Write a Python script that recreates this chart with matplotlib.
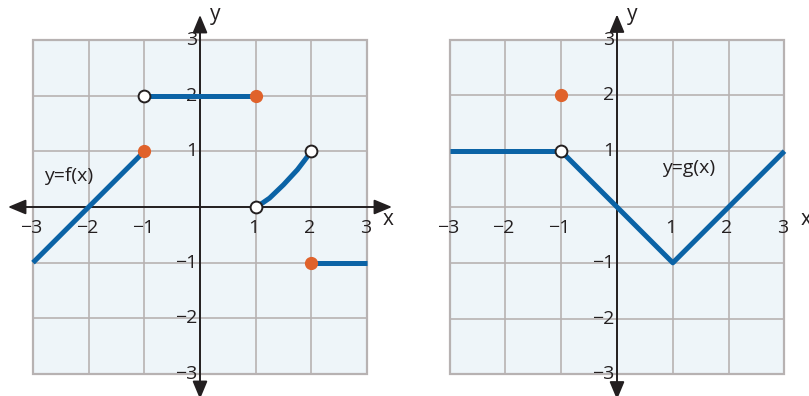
import matplotlib
matplotlib.use("Agg")
import matplotlib.pyplot as plt
from matplotlib.patches import Rectangle

plt.rcParams['font.family'] = ['Open Sans', 'DejaVu Sans']

# data
ticks = [-3, -2, -1, 1, 2, 3]
tick_labels = ['−3', '−2', '−1', '1', '2', '3']

# f(x) pieces
f_line1_x = [-3, -1]
f_line1_y = [-1, 1]
f_flat_x = [-1, 1]
f_flat_y = [2, 2]
f_curve_x = [1, 1.12, 1.25, 1.5, 1.75, 1.88, 2]
f_curve_y = [0, 0.07, 0.16, 0.40, 0.67, 0.84, 1]
f_tail_x = [2, 3]
f_tail_y = [-1, -1]
f_closed = [(-1, 1), (1, 2), (2, -1)]
f_open = [(-1, 2), (1, 0), (2, 1)]

# g(x) pieces
g_flat_x = [-3, -1]
g_flat_y = [1, 1]
g_v_x = [-1, 1, 3]
g_v_y = [1, -1, 1]
g_closed = [(-1, 2)]
g_open = [(-1, 1)]

BLUE = '#0b63a6'
ORANGE = '#e0622b'
DARK = '#231f20'
GRID = '#b7b2b2'
BG = '#eef5f9'
FS = 14

W, H = 809, 396
fig = plt.figure(figsize=(W / 100, H / 100), dpi=100)


def make_panel(left_px, right_px, x0_px, unit):
    ax = fig.add_axes([left_px / W, 0, (right_px - left_px) / W, 1])
    y0_px = 207
    ax.set_xlim((left_px - x0_px) / unit, (right_px - x0_px) / unit)
    ax.set_ylim((y0_px - H) / unit, y0_px / unit)
    ax.axis('off')

    ax.add_patch(Rectangle((-3, -3), 6, 6, facecolor=BG, edgecolor=GRID,
                           lw=1.6, zorder=0))
    for v in range(-2, 3):
        ax.plot([v, v], [-3, 3], color=GRID, lw=1.2, zorder=1)
        ax.plot([-3, 3], [v, v], color=GRID, lw=1.2, zorder=1)

    arrow = dict(arrowstyle='<|-|>,head_length=0.6,head_width=0.25',
                 color=DARK, lw=1.4, mutation_scale=18, shrinkA=0, shrinkB=0)
    ax.annotate('', xy=(3.45, 0), xytext=(-3.45, 0), arrowprops=arrow, zorder=2)
    ax.annotate('', xy=(0, 3.45), xytext=(0, -3.45), arrowprops=arrow, zorder=2)

    for t, lab in zip(ticks, tick_labels):
        ax.text(t - 0.03, -0.38, lab, ha='center', va='center', fontsize=FS,
                color=DARK, zorder=3)
        ax.text(-0.05, t, lab, ha='right', va='center', fontsize=FS,
                color=DARK, zorder=3)
    ax.text(0.17, 3.45, 'y', ha='left', va='center', fontsize=FS + 1,
            color=DARK)
    ax.text(3.38, -0.23, 'x', ha='center', va='center', fontsize=FS + 1,
            color=DARK)
    return ax


def draw_points(ax, closed, opened):
    for x, y in closed:
        ax.plot(x, y, 'o', ms=8.5, color=ORANGE, mec=ORANGE, zorder=6)
    for x, y in opened:
        ax.plot(x, y, 'o', ms=8.5, mfc='white', mec=DARK, mew=1.4, zorder=6)


ax1 = make_panel(0, 400, 200, 55.67)
for xs, ys in [(f_line1_x, f_line1_y), (f_flat_x, f_flat_y),
               (f_curve_x, f_curve_y), (f_tail_x, f_tail_y)]:
    ax1.plot(xs, ys, color=BLUE, lw=3.6, solid_capstyle='butt', zorder=4)
draw_points(ax1, f_closed, f_open)
ax1.text(-2.8, 0.55, 'y=f(x)', ha='left', va='center', fontsize=FS,
         color=DARK, zorder=3)

ax2 = make_panel(410, 809, 617, 55.83)
ax2.plot(g_flat_x, g_flat_y, color=BLUE, lw=3.6, solid_capstyle='butt',
         zorder=4)
ax2.plot(g_v_x, g_v_y, color=BLUE, lw=3.6, solid_capstyle='butt', zorder=4)
draw_points(ax2, g_closed, g_open)
ax2.text(0.8, 0.70, 'y=g(x)', ha='left', va='center', fontsize=FS,
         color=DARK, zorder=3)

fig.savefig('out.png', dpi=100, facecolor='white')
